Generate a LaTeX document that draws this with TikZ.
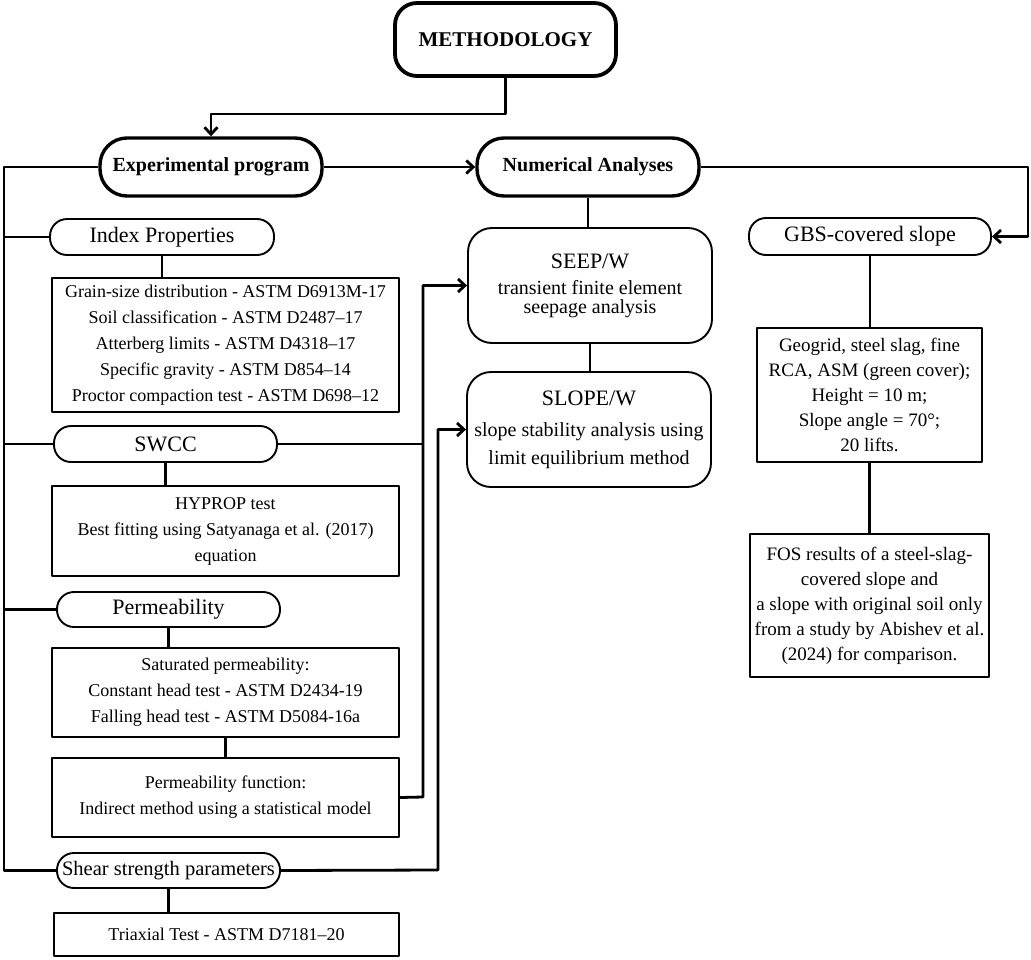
\documentclass[tikz,border=0pt]{standalone}
\usepackage{fontspec}
\setmainfont{Liberation Serif}
\usetikzlibrary{arrows.meta}

\begin{document}
\begin{tikzpicture}[x=1pt,y=-1pt,>={Straight Barb[length=7pt,width=13pt]},line join=round,
    main/.style={draw,line width=3.4pt,rounded corners=27pt,inner sep=0pt,font=\fontsize{20}{24}\selectfont\bfseries},
    pill/.style={draw,line width=1.9pt,rounded corners=17pt,inner sep=0pt,font=\fontsize{22}{26}\selectfont},
    box/.style={draw,line width=1.9pt,inner sep=0pt,align=center,font=\fontsize{18}{26}\selectfont},
    rbox/.style={box,font=\fontsize{19}{25}\selectfont},
    soft/.style={draw,line width=1.9pt,rounded corners=24pt,inner sep=0pt,align=center,font=\fontsize{20}{24}\selectfont},
    link/.style={line width=2.8pt}]
    \useasboundingbox (0,0) rectangle (1031,959);
    % top row
    \node[main,rounded corners=22pt,line width=3.8pt,minimum width=221pt,minimum height=73pt,font=\fontsize{21}{25}\selectfont\bfseries] (meth) at (505.5,39.5) {METHODOLOGY};
    \node[main,minimum width=222pt,minimum height=58pt] (exp) at (211,167) {Experimental program};
    \node[main,minimum width=222pt,minimum height=58pt] (num) at (588,167) {Numerical Analyses};
    % experimental column
    \node[pill,minimum width=224pt,minimum height=36pt] (idx) at (162,237) {Index Properties};
    \node[box,minimum width=347pt,minimum height=134pt] (grain) at (225.5,345) {Grain-size distribution - ASTM D6913M-17\\ Soil classification - ASTM D2487–17\\ Atterberg limits - ASTM D4318–17\\ Specific gravity - ASTM D854–14\\ Proctor compaction test - ASTM D698–12};
    \node[pill,minimum width=223pt,minimum height=36pt] (swcc) at (165.5,444) {SWCC};
    \node[box,minimum width=347pt,minimum height=90pt] (hyprop) at (225.5,531) {HYPROP test\\ Best fitting using Satyanaga et al. (2017)\\ equation};
    \node[pill,minimum width=223pt,minimum height=35pt] (perm) at (168.5,609.5) {Permeability};
    \node[box,minimum width=347pt,minimum height=89pt] (ksat) at (225.5,692.5) {Saturated permeability:\\ Constant head test - ASTM D2434-19\\ Falling head test - ASTM D5084-16a};
    \node[box,minimum width=347pt,minimum height=79pt] (kfun) at (225.5,797.5) {Permeability function:\\ Indirect method using a statistical model};
    \node[pill,minimum width=223pt,minimum height=35pt,font=\fontsize{20.5}{24}\selectfont] (shear) at (168.5,870.5) {Shear strength parameters};
    \node[box,minimum width=345pt,minimum height=43pt] (triax) at (226.5,934.5) {Triaxial Test - ASTM D7181–20};
    % numerical column
    \node[soft,minimum width=244pt,minimum height=115pt] (seep) at (590,285.5) {{\fontsize{22}{26}\selectfont SEEP/W}\\[2pt] transient finite element\\[-5pt] seepage analysis};
    \node[soft,minimum width=244pt,minimum height=115pt] (slope) at (589,429.5) {{\fontsize{22}{26}\selectfont SLOPE/W}\\[7pt] slope stability analysis using\\[4pt] limit equilibrium method};
    % slope column
    \node[pill,minimum width=242pt,minimum height=37pt] (gbs) at (870,236.5) {GBS-covered slope};
    \node[rbox,minimum width=225pt,minimum height=134pt] (geo) at (869.5,395) {Geogrid, steel slag, fine\\ RCA, ASM (green cover);\\ Height = 10 m;\\ Slope angle = 70°;\\ 20 lifts.};
    \node[rbox,minimum width=239pt,minimum height=143pt] (fos) at (869.5,605.5) {FOS results of a steel-slag-\\ covered slope and\\ a slope with original soil only\\ from a study by Abishev et al.\\ (2024) for comparison.};
    % connectors
    \coordinate (trunk) at (4,167);
    \coordinate (busA) at (423,797);
    \coordinate (busB) at (438,870);
    \coordinate (edge) at (1028,167);
    \draw[link,->] (meth.south) -- ++(0,36) -| (exp.north);
    \draw[link,->] (exp.east) -- (num.west);
    \draw[link,->] (num.east) -- (edge) |- (gbs.east);
    \draw[link] (exp.west) -- (trunk) |- (shear.west);
    \foreach \n in {idx,swcc,perm}
        \draw[link] (\n.west) -- (trunk |- \n.west);
    \foreach \a/\b in {num/seep,seep/slope,idx/grain,swcc/hyprop,perm/ksat,ksat/kfun,shear/triax,gbs/geo,geo/fos}
        \draw[link] (\a.south) -- (\a.south |- \b.north);
    \draw[link,->] (kfun.east) -- (busA) |- (seep.west);
    \draw[link] (swcc.east) -- (swcc.east -| busA);
    \draw[link,->] (shear.east) -- (busB) |- (slope.west);
\end{tikzpicture}
\end{document}
